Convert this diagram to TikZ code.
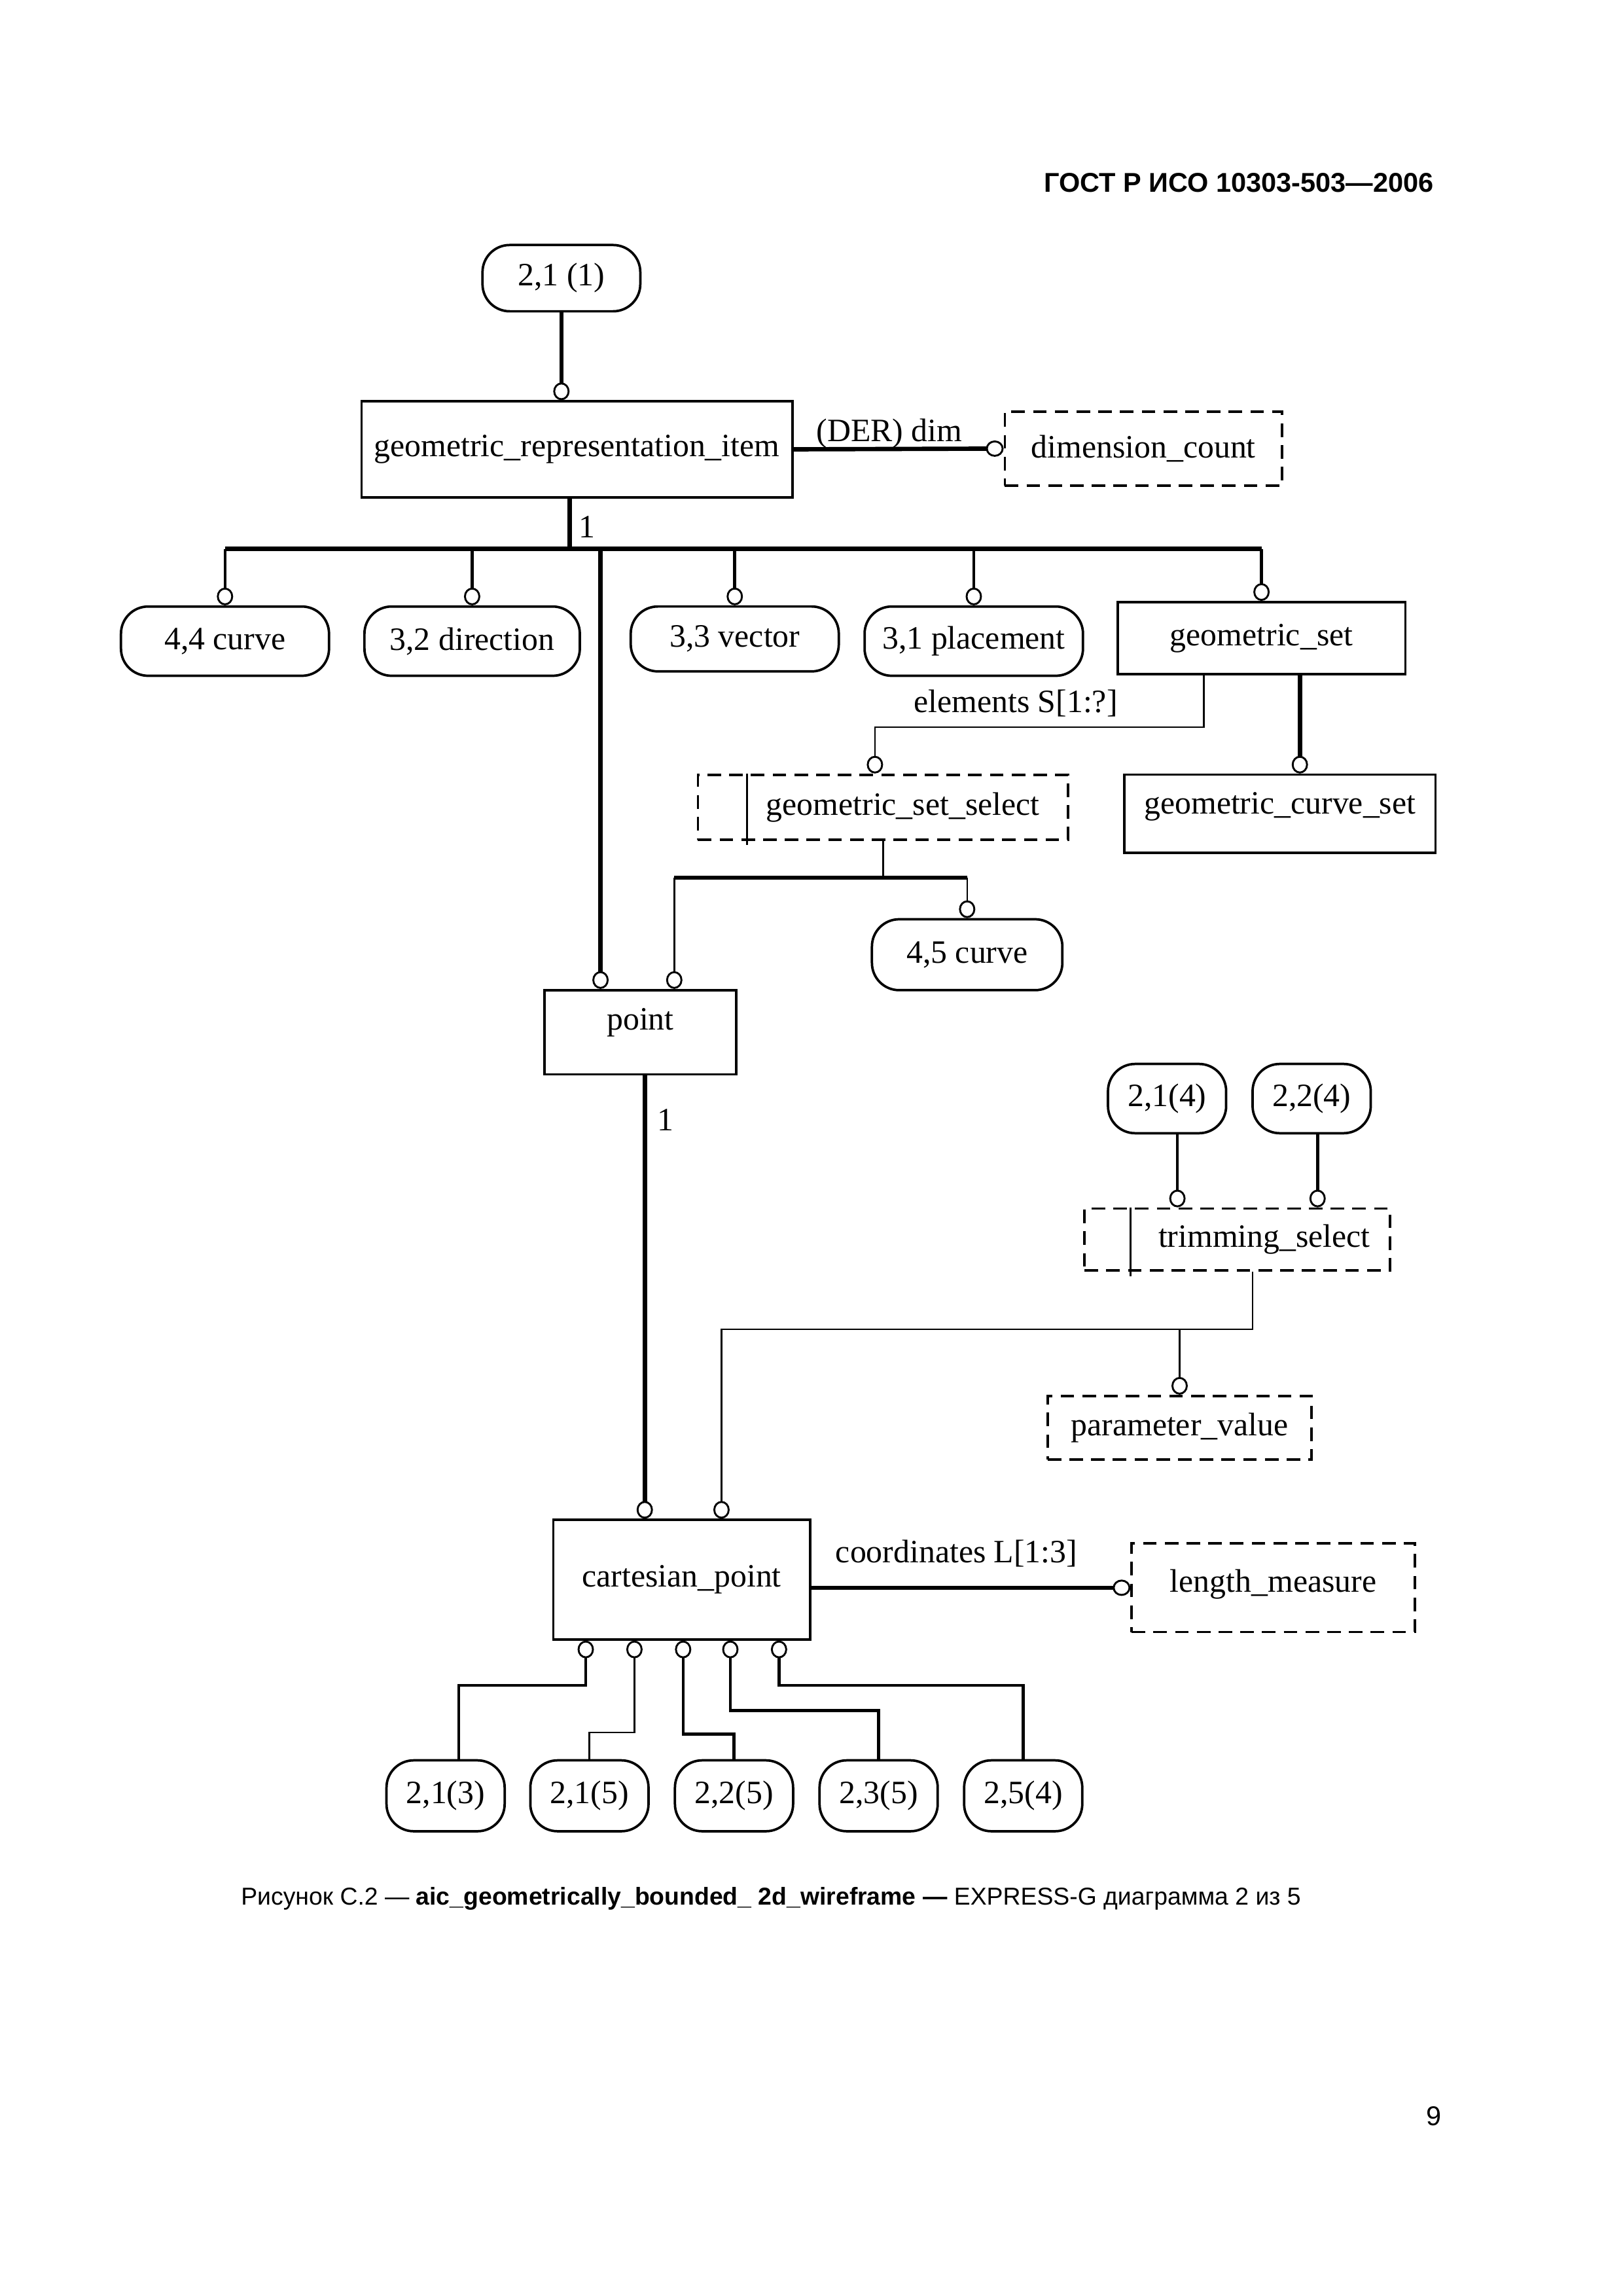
\documentclass[tikz,border=0pt]{standalone}
\usepackage{fontspec}
\setmainfont{Liberation Serif}
\newfontfamily\gostfont{Liberation Sans}
\usetikzlibrary{arrows.meta}

\tikzset{
  entity/.style={draw, line width=0.9pt, inner sep=1pt},
  deftype/.style={entity, dash pattern=on 5pt off 3pt},
  selecttype/.style={deftype},
  pageref/.style={entity, rounded corners=10pt},
  lnk/.style={line width=0.6pt},
  lnkmid/.style={line width=1.1pt},
  lnkthick/.style={line width=1.6pt},
  ring/.style={-{Circle[open, length=6.5pt, width=6pt, line width=0.7pt]}},
  lbl/.style={inner sep=0pt}
}

\begin{document}
\begin{tikzpicture}[x=0.5432pt, y=-0.5432pt,
  every node/.append style={font=\fontsize{12}{14}\selectfont}]
\useasboundingbox (0,0) rectangle (1100,1556);

% page head, caption, page number
\node[lbl, anchor=base east, font=\gostfont\bfseries\fontsize{10}{12}\selectfont] (head) at (972,130) {ГОСТ Р ИСО 10303-503—2006};
\node[lbl, anchor=base west, font=\gostfont\fontsize{9}{11}\selectfont] (caption) at (163,1291) {Рисунок С.2 — \textbf{aic\_geometrically\_bounded\_ 2d\_wireframe —} EXPRESS-G диаграмма 2 из 5};
\node[lbl, font=\gostfont\fontsize{10}{12}\selectfont] (pageno) at (972,1434) {9};

% top
\node[pageref, minimum width=58.1pt, minimum height=24.4pt] (r211a) at (380.5,188.5) {2,1 (1)};
\node[entity, minimum width=158.6pt, minimum height=35.3pt] (gri) at (391,304.5) {geometric\_representation\_item};
\node[deftype, minimum width=102.1pt, minimum height=27.2pt] (dim) at (775,304) {dimension\_count};

% subtypes of geometric_representation_item
\node[pageref, minimum width=76.6pt, minimum height=25.5pt] (c44) at (152.5,434.5) {4,4 curve};
\node[pageref, minimum width=79.3pt, minimum height=25.5pt] (c32) at (320,434.5) {3,2 direction};
\node[pageref, minimum width=76.6pt, minimum height=23.9pt] (c33) at (498,433) {3,3 vector};
\node[pageref, minimum width=80.4pt, minimum height=25.5pt] (c31) at (660,434.5) {3,1 placement};
\node[entity, minimum width=105.9pt, minimum height=26.6pt] (gset) at (855,432.5) {geometric\_set};

% geometric_set branch
\node[selecttype, minimum width=136.3pt, minimum height=23.9pt] (gss) at (598.5,547) {\hspace*{14.6pt}geometric\_set\_select};
\node[entity, minimum width=114.6pt, minimum height=28.8pt, text depth=8pt] (gcs) at (867.5,551.5) {geometric\_curve\_set};
\node[pageref, minimum width=70.1pt, minimum height=26.1pt] (c45) at (655.5,647) {4,5 curve};
\node[entity, minimum width=70.6pt, minimum height=31pt, text depth=9.6pt] (pt) at (434,699.5) {point};

% trimming
\node[pageref, minimum width=43.5pt, minimum height=25.5pt] (r214) at (791,744.5) {2,1(4)};
\node[pageref, minimum width=43.5pt, minimum height=25.5pt] (r224) at (889,744.5) {2,2(4)};
\node[selecttype, minimum width=112.4pt, minimum height=22.8pt] (ts) at (838.5,840) {\hspace*{20pt}trimming\_select};
\node[deftype, minimum width=97.2pt, minimum height=23.4pt] (pv) at (799.5,967.5) {parameter\_value};

% cartesian_point
\node[entity, minimum width=94.5pt, minimum height=44pt] (cp) at (462,1070.5) {cartesian\_point};
\node[deftype, minimum width=104.3pt, minimum height=32.6pt, text depth=5pt] (lm) at (863,1076) {length\_measure};
\node[pageref, minimum width=43.5pt, minimum height=26.1pt] (r213) at (302,1217) {2,1(3)};
\node[pageref, minimum width=43.5pt, minimum height=26.1pt] (r215) at (399.5,1217) {2,1(5)};
\node[pageref, minimum width=43.5pt, minimum height=26.1pt] (r225) at (497.5,1217) {2,2(5)};
\node[pageref, minimum width=43.5pt, minimum height=26.1pt] (r235) at (595.5,1217) {2,3(5)};
\node[pageref, minimum width=43.5pt, minimum height=26.1pt] (r254) at (693.5,1217) {2,5(4)};

% select marks
\draw[lnk] ([shift={(34,0)}]gss.north west) -- ([shift={(34,3)}]gss.south west);
\draw[lnk] ([shift={(32,0)}]ts.north west) -- ([shift={(32,3)}]ts.south west);

% ports
\coordinate (bus) at (386,372);
\coordinate (gs-o1) at ([shift={(-39,0)}]gset.south);
\coordinate (gs-o2) at ([shift={(26,0)}]gset.south);
\coordinate (gss-i) at ([shift={(-5.5,0)}]gss.north);
\coordinate (fork1) at ([shift={(0,25)}]gss.south);
\coordinate (pt-i1) at ([shift={(-27,0)}]pt.north);
\coordinate (pt-i2) at ([shift={(23,0)}]pt.north);
\coordinate (cp-i1) at ([shift={(-25,0)}]cp.north);
\coordinate (cp-i2) at ([shift={(27,0)}]cp.north);
\coordinate (ts-i1) at ([shift={(-40.5,0)}]ts.north);
\coordinate (ts-i2) at ([shift={(54.5,0)}]ts.north);
\coordinate (ts-o) at ([shift={(10.5,0)}]ts.south);
\coordinate (fork2) at ([shift={(0,39)}]ts-o);
\coordinate (r213-i) at ([shift={(9,0)}]r213.north);
\foreach \dx [count=\i] in {-65,-32,1,33,66}
  \coordinate (cp-o\i) at ([shift={(\dx,0)}]cp.south);

% connectors
\draw[lnkthick,ring] (r211a.south) -- (r211a.south |- gri.north);
\draw[lnkthick,ring] (gri.east) -- (dim.west);
\node[lbl, anchor=base west] (derdim) at (553,299) {(DER) dim};
\draw[lnkthick] (bus |- gri.south) -- (bus);
\node[lbl, anchor=west] (one1) at (392,357) {1};
\draw[lnkthick] (c44.north |- bus) -- (gset.north |- bus);
\foreach \n in {c44,c32,c33,c31,gset}
  \draw[lnkmid,ring] (\n.north |- bus) -- (\n.north);
\draw[lnkthick,ring] (pt-i1 |- bus) -- (pt-i1);

\draw[lnk,ring] (gs-o1) -- ++(0,35) -| (gss-i);
\node[lbl, anchor=base west] (elem) at (619,483) {elements S[1:?]};
\draw[lnkthick,ring] (gs-o2) -- (gs-o2 |- gcs.north);

\draw[lnk] (gss.south) -- (fork1);
\draw[lnkthick] (fork1 -| pt-i2) -- (fork1 -| c45.north);
\draw[lnk,ring] (fork1 -| pt-i2) -- (pt-i2);
\draw[lnk,ring] (fork1 -| c45.north) -- (c45.north);

\draw[lnkthick,ring] (pt.south -| cp-i1) -- (cp-i1);
\node[lbl] (one2) at (451,759) {1};

\draw[lnkmid,ring] (ts-i1 |- r214.south) -- (ts-i1);
\draw[lnkmid,ring] (ts-i2 |- r224.south) -- (ts-i2);
\draw[lnk,ring] (ts-o) -- (fork2) -| (cp-i2);
\draw[lnk,ring] (fork2 -| pv.north) -- (pv.north);

\draw[lnkthick,ring] (cp.east |- lm.west) -- (lm.west);
\node[lbl, anchor=base west] (coords) at (566,1059) {coordinates L[1:3]};

\draw[lnkmid,ring] (r213-i) -- ++(0,-50) -| (cp-o1);
\draw[lnk,ring] (r215.north) -- ++(0,-18) -| (cp-o2);
\draw[lnkmid,ring] (r225.north) -- ++(0,-17) -| (cp-o3);
\draw[lnkmid,ring] (r235.north) -- ++(0,-33) -| (cp-o4);
\draw[lnkmid,ring] (r254.north) -- ++(0,-50) -| (cp-o5);
\end{tikzpicture}
\end{document}
